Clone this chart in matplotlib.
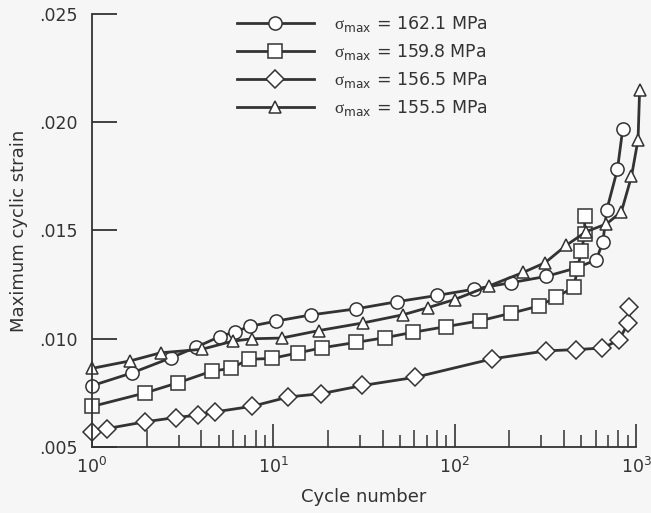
import numpy as np
import matplotlib
matplotlib.use("Agg")
import matplotlib.pyplot as plt
from matplotlib.ticker import FixedLocator, FuncFormatter, NullFormatter, LogFormatterSciNotation

plt.rcParams['font.family'] = ['DejaVu Sans']
plt.rcParams['mathtext.fontset'] = 'custom'
plt.rcParams['mathtext.rm'] = 'DejaVu Sans'
plt.rcParams['mathtext.sf'] = 'Liberation Serif'
plt.rcParams['mathtext.default'] = 'regular'

# data (cycle number, maximum cyclic strain)
labels = ['162.1', '159.8', '156.5', '155.5']
markers = ['o', 's', 'D', '^']

n_1621 = [1, 1.66, 2.71, 3.73, 5.06, 6.14, 7.41, 10.3, 16.1, 28.6, 48, 80,
          128, 205, 320, 464, 604, 657, 690, 790, 845]
e_1621 = [.00783, .00842, .00911, .0096, .0101, .01032, .01057, .01081, .0111,
          .01138, .01171, .0120, .01229, .01259, .01288, .01326, .01364,
          .01449, .01596, .01783, .0197]

n_1598 = [1, 1.95, 2.99, 4.57, 5.82, 7.34, 9.8, 13.6, 18.5, 28.5, 41.4, 59.1,
          89.6, 138, 205, 291, 363, 454, 475, 499, 521, 521]
e_1598 = [.00687, .00749, .00797, .0085, .00863, .00905, .00909, .00934,
          .00958, .00983, .01005, .0103, .01056, .01083, .01118, .01151,
          .01192, .01238, .01321, .01403, .01483, .01565]

n_1565 = [1, 1.21, 1.95, 2.89, 3.85, 4.76, 7.66, 12.1, 18.3, 31, 60.7, 161,
          320, 469, 652, 806, 903, 910]
e_1565 = [.0057, .00585, .00616, .00636, .00647, .00662, .00688, .00731,
          .00746, .00784, .00822, .00907, .00944, .0095, .00957, .00994,
          .01071, .01145]

n_1555 = [1, 1.63, 2.39, 4.02, 5.99, 7.66, 11.1, 17.9, 31.2, 52.1, 71.5, 99.8,
          155, 238, 315, 413, 532, 686, 830, 944, 1026, 1047]
e_1555 = [.00863, .00898, .00935, .00951, .00989, .0100, .01003, .01038,
          .01073, .01111, .01144, .01181, .01244, .01306, .01351, .01432,
          .01495, .0153, .01586, .0175, .0192, .02151]

series = [(n_1621, e_1621), (n_1598, e_1598), (n_1565, e_1565), (n_1555, e_1555)]

ink = '#333333'
bg = '#f6f6f6'

fig = plt.figure(figsize=(6.51, 5.13), dpi=100, facecolor=bg)
ax = fig.add_axes([0.1413, 0.1287, 0.8357, 0.844])
ax.set_facecolor(bg)

sizes = {'o': 9.5, 's': 9.5, 'D': 9.0, '^': 9.0}
for (n, e), lab, m in zip(series, labels, markers):
    ax.plot(n, e, color=ink, lw=2.0, marker=m, ms=sizes[m], mfc='white',
            mec=ink, mew=1.1, clip_on=False,
            label=r'$\mathsf{σ}_{max}$ = ' + lab + ' MPa')

ax.set_xscale('log')
ax.set_xlim(1, 1000)
ax.set_ylim(0.005, 0.025)

for s in ['top', 'right']:
    ax.spines[s].set_visible(False)
for s in ['left', 'bottom']:
    ax.spines[s].set_color(ink)
    ax.spines[s].set_linewidth(1.3)

ax.yaxis.set_major_locator(FixedLocator([.005, .010, .015, .020, .025]))
ax.yaxis.set_major_formatter(FuncFormatter(lambda v, p: f'{v:.3f}'.lstrip('0')))
ax.tick_params(axis='y', direction='in', length=18, width=1.3, color=ink,
               pad=10, labelsize=12.5, labelcolor=ink)

ax.xaxis.set_major_locator(FixedLocator([1, 10, 100, 1000]))
ax.xaxis.set_major_formatter(LogFormatterSciNotation())
even = [d * k for d in [1, 10, 100] for k in [2, 4, 6, 8]]
odd = [d * k for d in [1, 10, 100] for k in [3, 5, 7, 9]]
ax.xaxis.set_minor_locator(FixedLocator(even))
ax.xaxis.set_minor_formatter(NullFormatter())
ax.tick_params(axis='x', which='major', direction='in', length=16.5, width=1.2,
               color=ink, pad=7, labelsize=12.5, labelcolor=ink)
ax.tick_params(axis='x', which='minor', direction='in', length=12, width=1.1,
               color=ink)

sec = ax.secondary_xaxis('bottom')
sec.set_xticks(odd)
sec.xaxis.set_major_formatter(NullFormatter())
sec.xaxis.set_minor_locator(FixedLocator([]))
sec.tick_params(axis='x', which='major', direction='in', length=8.5, width=1.1,
                color=ink)
sec.spines['bottom'].set_visible(False)

ax.set_xlabel('Cycle number', fontsize=13, color=ink, labelpad=8)
ax.set_ylabel('Maximum cyclic strain', fontsize=13, color=ink, labelpad=8)

leg = ax.legend(loc='upper left', bbox_to_anchor=(0.267, 1.0), frameon=False,
                fontsize=12.5, handlelength=4.4, handletextpad=1.2,
                labelspacing=0.47, borderpad=0, borderaxespad=0)
for t in leg.get_texts():
    t.set_color(ink)

fig.savefig('out.png', dpi=100, facecolor=bg)
